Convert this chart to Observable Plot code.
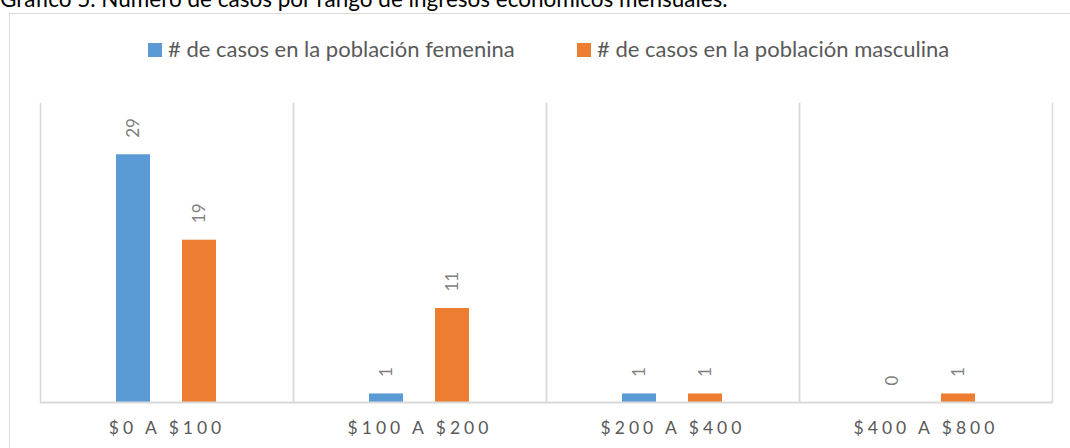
<!DOCTYPE html>
<html>
<head>
<meta charset="utf-8">
<script src="https://cdn.jsdelivr.net/npm/d3@7"></script>
<script src="https://cdn.jsdelivr.net/npm/@observablehq/plot@0.6"></script>
<style>
  html, body { margin: 0; padding: 0; background: #fff; }
  #page { position: relative; width: 1070px; height: 448px; overflow: hidden; font-family: Lato, "Noto Sans", sans-serif; }
  #box { position: absolute; left: 9px; top: 13px; width: 1100px; height: 500px; border: 1.5px solid #D9D9D9; box-sizing: border-box; }
  #title { position: absolute; left: 0; top: -12.5px; font-size: 22.5px; color: #000; white-space: nowrap; line-height: 22.5px; }
  #header { position: relative; height: 80px; }
  .sw { position: absolute; top: 43px; width: 14px; height: 14px; }
  .leg { position: absolute; top: 37px; font-size: 22px; color: #595959; white-space: nowrap; line-height: 24px; }
  #chart { position: relative; }
  #chart svg g[aria-label^="fx-axis"] text { letter-spacing: 4px; fill: #595959; font-size: 17.5px; font-family: Lato, sans-serif; }
</style>
</head>
<body>
<div id="page">
  <div id="box"></div>
  <div id="title">Gráfico 5. Número de casos por rango de ingresos económicos mensuales.</div>
  <div id="header"></div>
  <div id="chart"></div>
</div>
<script>
const categories = ["$0 A $100", "$100 A $200", "$200 A $400", "$400 A $800"];
const seriesNames = ["# de casos en la población femenina", "# de casos en la población masculina"];
const femenina = [29, 1, 1, 0];
const masculina = [19, 11, 1, 1];
const colors = ["#5B9BD5", "#ED7D31"];

const data = categories.flatMap((c, i) => [
  {cat: c, s: seriesNames[0], v: femenina[i]},
  {cat: c, s: seriesNames[1], v: masculina[i]}
]);

// legend
const header = document.getElementById("header");
const legLeft = [148, 577];
seriesNames.forEach((n, i) => {
  const sw = document.createElement("div");
  sw.className = "sw";
  sw.style.left = legLeft[i] + "px";
  sw.style.background = colors[i];
  header.appendChild(sw);
  const d = document.createElement("div");
  d.className = "leg";
  d.style.left = (legLeft[i] + 20) + "px";
  d.textContent = n;
  header.appendChild(d);
});

const chart = Plot.plot({
  width: 1070,
  height: 368,
  marginLeft: 39,
  marginRight: 17,
  marginTop: 23,
  marginBottom: 46,
  style: {fontFamily: "Lato, sans-serif", background: "transparent"},
  fx: {domain: categories, padding: 0, label: null, axis: "bottom", tickSize: 0, tickPadding: 19},
  x: {domain: seriesNames, paddingInner: 0.479, paddingOuter: 1.154, axis: null},
  y: {domain: [0, 35], axis: null},
  color: {domain: seriesNames, range: colors},
  marks: [
    Plot.frame({anchor: "left", stroke: "#D9D9D9", strokeWidth: 1.5}),
    Plot.frame({anchor: "right", stroke: "#D9D9D9", strokeWidth: 1.5}),
    Plot.barY(data, {fx: "cat", x: "s", y: "v", fill: "s"}),
    Plot.ruleY([0], {stroke: "#D9D9D9", strokeWidth: 2}),
    Plot.text(data, {fx: "cat", x: "s", y: "v", text: d => String(d.v), rotate: -90, textAnchor: "start", lineAnchor: "middle", dy: -17, fill: "#7F7F7F", fontSize: 17})
  ]
});
document.getElementById("chart").appendChild(chart);
</script>
</body>
</html>
